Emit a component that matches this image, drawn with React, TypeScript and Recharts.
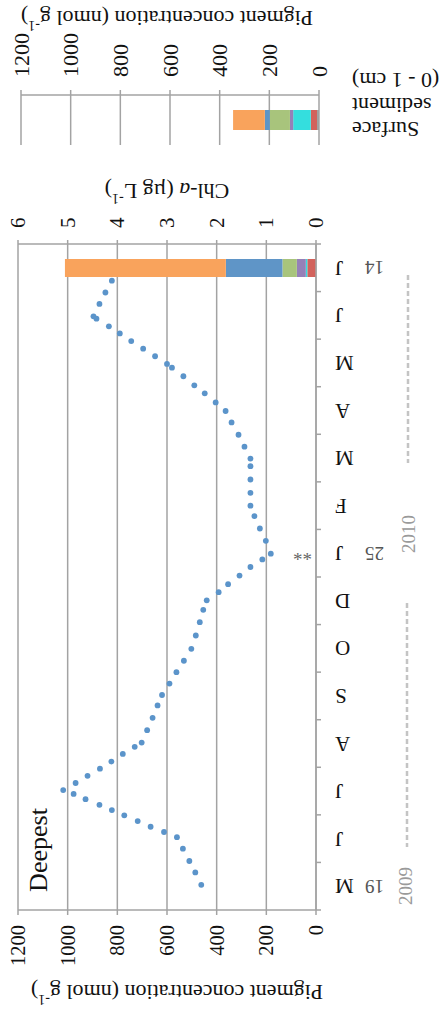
import React from 'react';
import { ScatterChart, Scatter, XAxis, YAxis, CartesianGrid, BarChart, Bar } from 'recharts';

const FONT = '"Liberation Serif", "Times New Roman", serif';
const GRID = '#a3a3a3';
const DOT = '#5b94ca';

// time axis (months, May 2009 .. Jun 2010)
const monthLabels = ['M', 'J', 'J', 'A', 'S', 'O', 'D', 'J', 'F', 'M', 'A', 'M', 'J', 'J'];
const dayLabels = ['19', '', '', '', '', '', '', '25', '', '', '', '', '', '14'];
const flagLabels = ['', '', '', '', '', '', '', '**', '', '', '', '', '', ''];

const pigmentTicks = [0, 200, 400, 600, 800, 1000, 1200];
const chlTicks = [0, 1, 2, 3, 4, 5, 6];

// Chl-a at the deepest site: sample time (month position) and value (µg L-1)
const sampleTime = [
  13.23, 12.98, 12.74, 12.48, 12.43, 12.27, 12.12, 11.96, 11.8, 11.64, 11.48, 11.4, 11.22, 11.03, 10.86,
  10.67, 10.49, 10.25, 9.99, 9.74, 9.49, 9.33, 9.05, 8.77, 8.5, 8.28, 8.02, 7.76, 7.49, 7.37, 7.21,
  7.03, 6.85, 6.68, 6.51, 6.31, 6.05, 5.77, 5.49, 5.24, 5.0, 4.76, 4.52, 4.3, 4.04, 3.78, 3.52, 3.43,
  3.28, 3.12, 2.97, 2.82, 2.67, 2.52, 2.44, 2.33, 2.21, 2.1, 1.99, 1.87, 1.75, 1.64, 1.53, 1.29, 1.03,
  0.79, 0.53,
];
const chlValues = [
  4.11, 4.24, 4.36, 4.48, 4.42, 4.17, 3.95, 3.72, 3.48, 3.24, 3.0, 2.9, 2.67, 2.45, 2.24,
  2.02, 1.82, 1.7, 1.56, 1.44, 1.32, 1.32, 1.32, 1.32, 1.32, 1.24, 1.13, 1.01, 0.91, 1.08, 1.32,
  1.54, 1.77, 1.96, 2.2, 2.27, 2.34, 2.42, 2.51, 2.66, 2.81, 2.95, 3.1, 3.19, 3.29, 3.4, 3.51, 3.65,
  3.89, 4.12, 4.35, 4.6, 4.84, 5.09, 4.88, 4.64, 4.36, 4.11, 3.86, 3.59, 3.33, 3.06, 2.8, 2.68, 2.55,
  2.43, 2.31,
];

// pigment composition (nmol g-1), stacked from 0 outward
const pigmentKeys = ['gray', 'red', 'cyan', 'purple', 'green', 'blue', 'orange'];
const pigmentColors: Record<string, string> = {
  gray: '#a0a0a0',
  red: '#d2625c',
  cyan: '#34dede',
  purple: '#9580b8',
  green: '#a8c47c',
  blue: '#5f95c7',
  orange: '#f9a35c',
};
const sedimentBar = [8, 25, 71, 13, 81, 20, 128];
const trapBar = [0, 35, 6, 36, 58, 228, 648];
const trapMonthIndex = 13;

const scatterData = sampleTime.map((t, i) => ({ t, chl: chlValues[i] }));
const monthTicks: number[] = [];
monthLabels.forEach((_, i) => {
  monthTicks.push(i, i + 0.5);
});
monthTicks.push(monthLabels.length);

const toRow = (name: string, vals: number[] | null) => {
  const row: Record<string, any> = { name };
  pigmentKeys.forEach((k, i) => (row[k] = vals ? vals[i] : 0));
  return row;
};
const sedimentData = [toRow('Surface sediment', sedimentBar)];
const monthRows = monthLabels.map((m, i) => toRow(`${m}-${i}`, i === trapMonthIndex ? trapBar : null));

const makeRotTick = (anchor: 'start' | 'end', fontSize: number) => (p: any) => {
  const { x, y, payload } = p;
  return (
    <text
      x={x}
      y={y}
      transform={`rotate(-90 ${x} ${y})`}
      textAnchor={anchor}
      dominantBaseline="central"
      fontSize={fontSize}
      fontFamily={FONT}
      fill="#111"
    >
      {payload.value}
    </text>
  );
};

const MonthTick = (p: any) => {
  const { x, y, payload } = p;
  const v = payload.value as number;
  if (Number.isInteger(v)) {
    return <line x1={x} x2={x + 5} y1={y} y2={y} stroke={GRID} strokeWidth={1.5} />;
  }
  const i = Math.floor(v);
  const mx = x + 19;
  const dx = x + 49;
  const fx = x - 4;
  return (
    <g fontFamily={FONT}>
      <text x={mx} y={y} transform={`rotate(180 ${mx} ${y})`} textAnchor="end" dominantBaseline="central" fontSize={21} fill="#111">
        {monthLabels[i]}
      </text>
      {dayLabels[i] ? (
        <text x={dx} y={y} transform={`rotate(180 ${dx} ${y})`} textAnchor="end" dominantBaseline="central" fontSize={19} fill="#555">
          {dayLabels[i]}
        </text>
      ) : null}
      {flagLabels[i] ? (
        <text x={fx} y={y} transform={`rotate(180 ${fx} ${y})`} textAnchor="start" dominantBaseline="central" fontSize={19} fill="#666">
          {flagLabels[i]}
        </text>
      ) : null}
    </g>
  );
};

const Title180 = ({ cx, cy, fontSize, children }: any) => (
  <text
    x={cx}
    y={cy}
    transform={`rotate(180 ${cx} ${cy})`}
    textAnchor="middle"
    dominantBaseline="central"
    fontSize={fontSize}
    fontFamily={FONT}
    fill="#111"
  >
    {children}
  </text>
);

const PigTitle = ({ cx, cy }: any) => (
  <Title180 cx={cx} cy={cy} fontSize={22}>
    Pigment concentration (nmol g
    <tspan dy={-8} fontSize={14}>-1</tspan>
    <tspan dy={8}>)</tspan>
  </Title180>
);

export default function App() {
  return (
    <div style={{ position: 'absolute', left: 0, top: 0, width: 445, height: 1010, overflow: 'hidden', background: '#fff' }}>
      {/* Surface sediment panel */}
      <div style={{ position: 'absolute', left: 0, top: 0 }}>
        <BarChart
          width={445}
          height={150}
          layout="vertical"
          data={sedimentData}
          margin={{ top: 0, right: 126, bottom: 5, left: 21 }}
        >
          <CartesianGrid vertical horizontal={false} stroke={GRID} strokeWidth={1.5} />
          <XAxis
            type="number"
            orientation="top"
            domain={[0, 1200]}
            ticks={pigmentTicks}
            reversed
            allowDataOverflow
            interval={0}
            height={95}
            tickSize={5}
            tickMargin={13}
            axisLine={{ stroke: GRID, strokeWidth: 1.5 }}
            tickLine={{ stroke: GRID, strokeWidth: 1.5 }}
            tick={makeRotTick('start', 22)}
          />
          <YAxis type="category" dataKey="name" hide />
          {pigmentKeys.map((k) => (
            <Bar key={k} dataKey={k} stackId="s" fill={pigmentColors[k]} barSize={20} isAnimationActive={false} />
          ))}
        </BarChart>
      </div>

      {/* Main panel: grid, pigment axis and the stacked pigment bar (one band per month) */}
      <div style={{ position: 'absolute', left: 0, top: 0 }}>
        <BarChart
          width={445}
          height={1010}
          layout="vertical"
          data={monthRows}
          margin={{ top: 244, right: 129, bottom: 0, left: 18 }}
        >
          <CartesianGrid vertical horizontal={false} stroke={GRID} strokeWidth={1.5} />
          <XAxis
            type="number"
            orientation="bottom"
            domain={[0, 1200]}
            ticks={pigmentTicks}
            reversed
            allowDataOverflow
            interval={0}
            height={100}
            tickSize={5}
            tickMargin={10}
            axisLine={{ stroke: GRID, strokeWidth: 1.5 }}
            tickLine={{ stroke: GRID, strokeWidth: 1.5 }}
            tick={makeRotTick('end', 20.5)}
          />
          <YAxis type="category" dataKey="name" reversed hide />
          {pigmentKeys.map((k) => (
            <Bar key={k} dataKey={k} stackId="s" fill={pigmentColors[k]} barSize={18} isAnimationActive={false} />
          ))}
        </BarChart>
      </div>

      {/* Main panel: Chl-a axis, month axis and the Chl-a dots */}
      <div style={{ position: 'absolute', left: 0, top: 0 }}>
        <ScatterChart width={445} height={1010} margin={{ top: 0, right: 19, bottom: 100, left: 18 }}>
          <XAxis
            type="number"
            dataKey="chl"
            orientation="top"
            domain={[0, 6]}
            ticks={chlTicks}
            reversed
            allowDataOverflow
            interval={0}
            height={244}
            tickSize={4}
            tickMargin={12}
            axisLine={{ stroke: GRID, strokeWidth: 1.5 }}
            tickLine={{ stroke: GRID, strokeWidth: 1.5 }}
            tick={makeRotTick('start', 21)}
          />
          <YAxis
            type="number"
            dataKey="t"
            orientation="right"
            domain={[0, monthLabels.length]}
            ticks={monthTicks}
            allowDataOverflow
            interval={0}
            width={110}
            tickSize={0}
            tickMargin={0}
            tickLine={false}
            axisLine={{ stroke: GRID, strokeWidth: 1.5 }}
            tick={MonthTick}
          />
          <Scatter
            data={scatterData}
            fill={DOT}
            isAnimationActive={false}
            shape={(props: any) => <circle cx={props.cx} cy={props.cy} r={2.9} fill={DOT} />}
          />
        </ScatterChart>
      </div>

      {/* Titles and annotations */}
      <svg width={445} height={1010} style={{ position: 'absolute', left: 0, top: 0, pointerEvents: 'none' }}>
        <PigTitle cx={167} cy={18} />
        <PigTitle cx={177} cy={992} />
        <Title180 cx={167} cy={191} fontSize={22}>
          Chl-<tspan fontStyle="italic">a</tspan> (µg L<tspan dy={-8} fontSize={14}>-1</tspan>
          <tspan dy={8}>)</tspan>
        </Title180>
        <g fontFamily={FONT} fontSize={22} fill="#111">
          <text x={352} y={80} transform="rotate(180 352 80)" textAnchor="end" dominantBaseline="central">(0 - 1 cm)</text>
          <text x={352} y={105} transform="rotate(180 352 105)" textAnchor="end" dominantBaseline="central">sediment</text>
          <text x={352} y={129} transform="rotate(180 352 129)" textAnchor="end" dominantBaseline="central">Surface</text>
        </g>
        <text x={38} y={850} transform="rotate(-90 38 850)" textAnchor="middle" dominantBaseline="central" fontSize={26} fontFamily={FONT} fill="#111">
          Deepest
        </text>
        <g stroke="#c4c4c4" strokeWidth={2.5} strokeDasharray="5 3">
          <line x1={407} x2={407} y1={603} y2={847} />
          <line x1={408} x2={408} y1={275} y2={463} />
        </g>
        <g fontFamily={FONT} fontSize={19} fill="#9a9a9a">
          <text x={405} y={886} transform="rotate(-90 405 886)" textAnchor="middle" dominantBaseline="central">2009</text>
          <text x={408} y={534} transform="rotate(-90 408 534)" textAnchor="middle" dominantBaseline="central">2010</text>
        </g>
      </svg>
    </div>
  );
}
